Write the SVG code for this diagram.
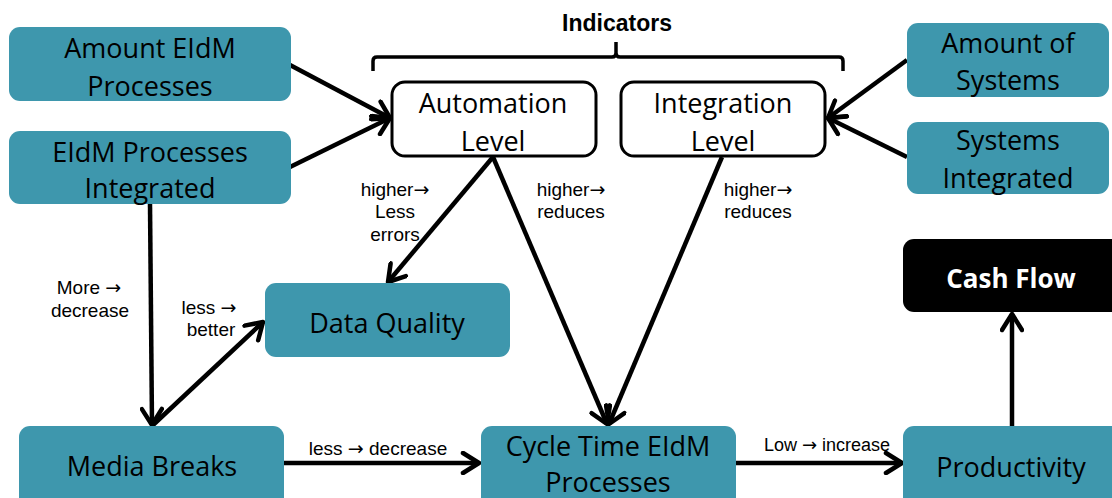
<svg xmlns="http://www.w3.org/2000/svg" width="1112" height="498" viewBox="0 0 1112 498">
<defs>
<style>
.teal{fill:#3E97AD}
.white{fill:#ffffff;stroke:#000;stroke-width:3}
.black{fill:#000}
.nt{font-family:"Open Sans","Noto Sans",sans-serif;font-size:27px;fill:#000;text-anchor:middle}
.wt{font-family:"Open Sans","Noto Sans",sans-serif;font-size:26px;font-weight:bold;fill:#fff;text-anchor:middle}
.lb{font-family:"Liberation Sans",Arial,sans-serif;font-size:19px;fill:#000;text-anchor:middle}
.ar{font-family:"DejaVu Sans",sans-serif}
.ttl{font-family:"Liberation Sans",Arial,sans-serif;font-size:23px;font-weight:bold;fill:#000;text-anchor:middle}
.ln{fill:none;stroke:#000;stroke-width:4.5}
.br{fill:none;stroke:#000;stroke-width:3.5;stroke-linejoin:round}
</style>
<marker id="ah" markerUnits="userSpaceOnUse" viewBox="0 0 24 24" markerWidth="24" markerHeight="24" refX="20" refY="12" orient="auto">
<path d="M4,2 L20,12 L4,22" fill="none" stroke="#000" stroke-width="4.5" stroke-linecap="round" stroke-linejoin="round"/>
</marker>
</defs>
<rect width="1112" height="498" fill="#fff"/>

<g id="indicators">
<path class="br" d="M373,71 V61 Q373,57 377,57 H612 Q616,57 616,53 V42 M616,53 Q616,57 620,57 H839 Q843,57 843,61 V71"/>
<text class="ttl" x="617" y="31">Indicators</text>
</g>

<g id="connectors">
<line class="ln" x1="290" y1="65" x2="390" y2="118" marker-end="url(#ah)"/>
<line class="ln" x1="290" y1="167" x2="390" y2="118" marker-end="url(#ah)"/>
<line class="ln" x1="907" y1="60" x2="828" y2="118" marker-end="url(#ah)"/>
<line class="ln" x1="907" y1="157" x2="828" y2="118" marker-end="url(#ah)"/>
<line class="ln" x1="493" y1="157" x2="388" y2="282" marker-end="url(#ah)"/>
<line class="ln" x1="493" y1="157" x2="607" y2="424" marker-end="url(#ah)"/>
<line class="ln" x1="722" y1="157" x2="609" y2="424" marker-end="url(#ah)"/>
<line class="ln" x1="150" y1="204" x2="152" y2="425" marker-end="url(#ah)"/>
<line class="ln" x1="153" y1="425" x2="263" y2="322" marker-end="url(#ah)"/>
<line class="ln" x1="284" y1="463" x2="479" y2="463" marker-end="url(#ah)"/>
<line class="ln" x1="736" y1="463" x2="902" y2="463" marker-end="url(#ah)"/>
<line class="ln" x1="1012" y1="426" x2="1012" y2="314" marker-end="url(#ah)"/>
<text class="lb" x="395" y="196">higher<tspan class="ar">→</tspan></text>
<text class="lb" x="395" y="218">Less</text>
<text class="lb" x="395" y="241">errors</text>
<text class="lb" x="571" y="196">higher<tspan class="ar">→</tspan></text>
<text class="lb" x="571" y="218">reduces</text>
<text class="lb" x="758" y="196">higher<tspan class="ar">→</tspan></text>
<text class="lb" x="758" y="218">reduces</text>
<text class="lb" x="89" y="294">More <tspan class="ar">→</tspan></text>
<text class="lb" x="90" y="317">decrease</text>
<text class="lb" x="209" y="314">less <tspan class="ar">→</tspan></text>
<text class="lb" x="211" y="336">better</text>
<text class="lb" x="378" y="455">less <tspan class="ar">→</tspan> decrease</text>
<text class="lb" x="827" y="451" style="font-size:18px">Low <tspan class="ar">→</tspan> increase</text>
</g>

<g id="amount-eidm">
<rect class="teal" x="9" y="27" width="282" height="74" rx="11"/>
<text class="nt" x="150" y="58">Amount EIdM</text>
<text class="nt" x="150" y="96">Processes</text>
</g>
<g id="eidm-integrated">
<rect class="teal" x="9" y="131" width="282" height="73" rx="11"/>
<text class="nt" x="150" y="162">EIdM Processes</text>
<text class="nt" x="150" y="198">Integrated</text>
</g>
<g id="automation">
<rect class="white" x="392" y="82" width="204" height="74" rx="13"/>
<text class="nt" x="493" y="113">Automation</text>
<text class="nt" x="493" y="151">Level</text>
</g>
<g id="integration">
<rect class="white" x="621" y="82" width="204" height="74" rx="13"/>
<text class="nt" x="723" y="113">Integration</text>
<text class="nt" x="723" y="151">Level</text>
</g>
<g id="amount-systems">
<rect class="teal" x="907" y="23" width="202" height="74" rx="11"/>
<text class="nt" x="1008" y="53">Amount of</text>
<text class="nt" x="1008" y="90">Systems</text>
</g>
<g id="systems-integrated">
<rect class="teal" x="907" y="122" width="202" height="72" rx="11"/>
<text class="nt" x="1008" y="150">Systems</text>
<text class="nt" x="1008" y="188">Integrated</text>
</g>
<g id="data-quality">
<rect class="teal" x="265" y="283" width="245" height="74" rx="11"/>
<text class="nt" x="387" y="333">Data Quality</text>
</g>
<g id="media-breaks">
<rect class="teal" x="19" y="426" width="265" height="84" rx="11"/>
<text class="nt" x="152" y="476">Media Breaks</text>
</g>
<g id="cycle-time">
<rect class="teal" x="481" y="426" width="255" height="84" rx="11"/>
<text class="nt" x="608" y="456">Cycle Time EIdM</text>
<text class="nt" x="608" y="492">Processes</text>
</g>
<g id="productivity">
<rect class="teal" x="903" y="426" width="220" height="84" rx="11"/>
<text class="nt" x="1011" y="477">Productivity</text>
</g>
<g id="cash-flow">
<rect class="black" x="903" y="239" width="220" height="73" rx="11"/>
<text class="wt" x="1011" y="288">Cash Flow</text>
</g>
</svg>
